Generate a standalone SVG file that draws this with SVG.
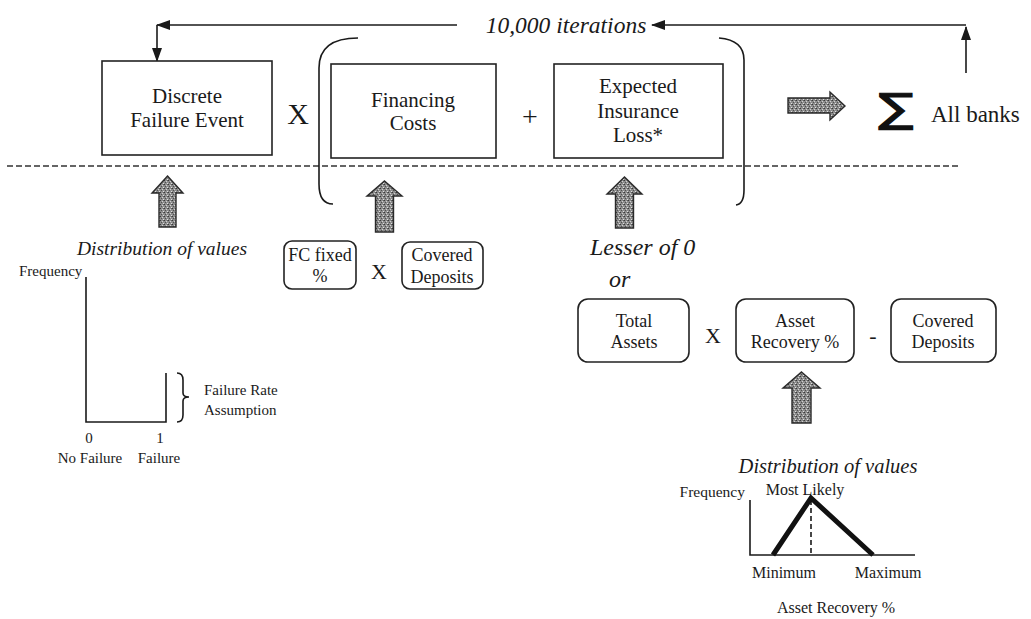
<svg xmlns="http://www.w3.org/2000/svg" width="1031" height="619" viewBox="0 0 1031 619">
<style>
  .t{font-family:"Liberation Serif","Times New Roman",serif;fill:#1a1a1a}
  .ti{font-family:"Liberation Serif","Times New Roman",serif;font-style:italic;fill:#1a1a1a}
  .box{fill:#fff;stroke:#222;stroke-width:1.6}
  .rbox{fill:#fff;stroke:#222;stroke-width:1.6}
  .ln{fill:none;stroke:#1a1a1a;stroke-width:1.6}
  .blk{fill:url(#tex);stroke:#2a2a2a;stroke-width:1.4}
  .ax{fill:none;stroke:#1a1a1a;stroke-width:1.6}
</style>
<defs>
  <pattern id="tex" width="4" height="4" patternUnits="userSpaceOnUse">
    <rect width="4" height="4" fill="#8c8c8c"/>
    <rect x="0" y="0" width="1" height="1" fill="#3a3a3a"/>
    <rect x="2" y="1" width="1" height="1" fill="#d0d0d0"/>
    <rect x="1" y="2" width="1" height="1" fill="#505050"/>
    <rect x="3" y="3" width="1" height="1" fill="#e0e0e0"/>
    <rect x="3" y="0" width="1" height="1" fill="#606060"/>
  </pattern>
  <marker id="ah" viewBox="0 0 14 10" refX="13" refY="5" markerWidth="14" markerHeight="10" markerUnits="userSpaceOnUse" orient="auto">
    <path d="M0,0 L14,5 L0,10 Z" fill="#1a1a1a"/>
  </marker>
</defs>
<rect width="1031" height="619" fill="#fff"/>

<!-- dashed separator -->
<line x1="7" y1="166" x2="960" y2="166" stroke="#333" stroke-width="1.3" stroke-dasharray="6 3"/>

<!-- brackets -->
<path class="ln" d="M358,38 Q319,38 319,68 L319,184 Q319,204 333,204"/>
<path class="ln" d="M719,38 Q744,40 744,60 L744,190 Q744,204 736,205"/>

<g id="connectors">
  <path class="ln" d="M966,73 L966,27" marker-end="url(#ah)"/>
  <path class="ln" d="M966,25 L652,25" marker-end="url(#ah)"/>
  <path class="ln" d="M457,25 L157,25" marker-end="url(#ah)"/>
  <path class="ln" d="M157,25 L157,61" marker-end="url(#ah)"/>
  <polygon class="blk" points="167.5,176 183,193 176,193 176,227 159,227 159,193 152,193"/>
  <polygon class="blk" points="384.5,181 402,196 393.5,196 393.5,232 375.5,232 375.5,196 367,196"/>
  <polygon class="blk" points="624.5,177 642,194 633.5,194 633.5,228 615.5,228 615.5,194 607,194"/>
  <polygon class="blk" points="801.5,372 820,388 811,388 811,423 792,423 792,388 783,388"/>
  <polygon class="blk" points="845,106 830,92 830,98 788,98 788,113 830,113 830,120"/>
</g>

<text class="ti" x="566" y="33" font-size="23.5" text-anchor="middle">10,000 iterations</text>

<g id="discrete-failure-event">
  <rect class="box" x="102" y="61" width="170" height="94"/>
  <text class="t" x="187" y="103" font-size="21" text-anchor="middle">Discrete</text>
  <text class="t" x="187" y="127" font-size="21" text-anchor="middle">Failure Event</text>
</g>
<text class="t" x="298" y="124" font-size="30" text-anchor="middle">X</text>

<g id="financing-costs">
  <rect class="box" x="331" y="64" width="165" height="94"/>
  <text class="t" x="413" y="107" font-size="21" text-anchor="middle">Financing</text>
  <text class="t" x="413" y="130" font-size="21" text-anchor="middle">Costs</text>
</g>
<text class="t" x="530" y="126" font-size="28" text-anchor="middle">+</text>

<g id="expected-insurance-loss">
  <rect class="box" x="554" y="64" width="169" height="94"/>
  <text class="t" x="638" y="93" font-size="21" text-anchor="middle">Expected</text>
  <text class="t" x="638" y="118" font-size="21" text-anchor="middle">Insurance</text>
  <text class="t" x="638" y="142" font-size="21" text-anchor="middle">Loss*</text>
</g>

<g id="all-banks">
  <text x="896" y="122" font-size="40" text-anchor="middle" transform="translate(896 0) scale(1.3 1) translate(-896 0)" style="font-family:'DejaVu Sans',sans-serif;fill:#111;stroke:#111;stroke-width:1.2">∑</text>
  <text class="t" x="931" y="122" font-size="23">All banks</text>
</g>

<g id="failure-distribution">
  <text class="ti" x="162" y="255" font-size="19.5" text-anchor="middle">Distribution of values</text>
  <text class="t" x="19" y="276" font-size="15">Frequency</text>
  <path class="ax" d="M86,277 L86,422 L166,422 L166,373"/>
  <path class="ln" d="M177,373 Q183,373 183,380 L183,393 Q183,397 189,397 Q183,397 183,401 L183,415 Q183,422 177,422"/>
  <text class="t" x="204" y="395" font-size="15">Failure Rate</text>
  <text class="t" x="204" y="415" font-size="15">Assumption</text>
  <text class="t" x="89" y="443" font-size="15" text-anchor="middle">0</text>
  <text class="t" x="160" y="443" font-size="15" text-anchor="middle">1</text>
  <text class="t" x="90" y="463" font-size="15" text-anchor="middle">No Failure</text>
  <text class="t" x="159" y="463" font-size="15" text-anchor="middle">Failure</text>
</g>

<g id="fc-fixed">
  <rect class="rbox" x="284" y="241" width="72" height="48" rx="8"/>
  <text class="t" x="320" y="261" font-size="18" text-anchor="middle">FC fixed</text>
  <text class="t" x="320" y="282" font-size="18" text-anchor="middle">%</text>
</g>
<text class="t" x="379" y="279" font-size="22" text-anchor="middle">X</text>
<g id="covered-deposits-1">
  <rect class="rbox" x="402" y="242" width="81" height="47" rx="8"/>
  <text class="t" x="442" y="261" font-size="18" text-anchor="middle">Covered</text>
  <text class="t" x="442" y="283" font-size="18" text-anchor="middle">Deposits</text>
</g>

<text class="ti" x="590" y="255" font-size="24">Lesser of 0</text>
<text class="ti" x="609" y="287" font-size="24">or</text>

<g id="total-assets">
  <rect class="rbox" x="578" y="299" width="111" height="63" rx="10"/>
  <text class="t" x="634" y="327" font-size="18" text-anchor="middle">Total</text>
  <text class="t" x="634" y="348" font-size="18" text-anchor="middle">Assets</text>
</g>
<text class="t" x="713" y="343" font-size="22" text-anchor="middle">X</text>
<g id="asset-recovery">
  <rect class="rbox" x="736" y="299" width="118" height="63" rx="10"/>
  <text class="t" x="795" y="327" font-size="18" text-anchor="middle">Asset</text>
  <text class="t" x="795" y="348" font-size="18" text-anchor="middle">Recovery %</text>
</g>
<text class="t" x="873" y="343" font-size="22" text-anchor="middle">-</text>
<g id="covered-deposits-2">
  <rect class="rbox" x="891" y="299" width="105" height="63" rx="10"/>
  <text class="t" x="943" y="327" font-size="18" text-anchor="middle">Covered</text>
  <text class="t" x="943" y="348" font-size="18" text-anchor="middle">Deposits</text>
</g>

<g id="recovery-distribution">
  <text class="ti" x="828" y="473" font-size="20.5" text-anchor="middle">Distribution of values</text>
  <text class="t" x="745" y="497" font-size="15.5" text-anchor="end">Frequency</text>
  <text class="t" x="805" y="495" font-size="16" text-anchor="middle">Most Likely</text>
  <path class="ax" d="M750,500 L750,555 L915,555"/>
  <line x1="811" y1="500" x2="811" y2="555" stroke="#1a1a1a" stroke-width="1.6" stroke-dasharray="5 3"/>
  <path d="M773,555 L811,498 L873,555" fill="none" stroke="#111" stroke-width="5" stroke-linejoin="miter"/>
  <text class="t" x="784" y="578" font-size="16" text-anchor="middle">Minimum</text>
  <text class="t" x="888" y="578" font-size="16" text-anchor="middle">Maximum</text>
  <text class="t" x="836" y="613" font-size="16" text-anchor="middle">Asset Recovery %</text>
</g>
</svg>
